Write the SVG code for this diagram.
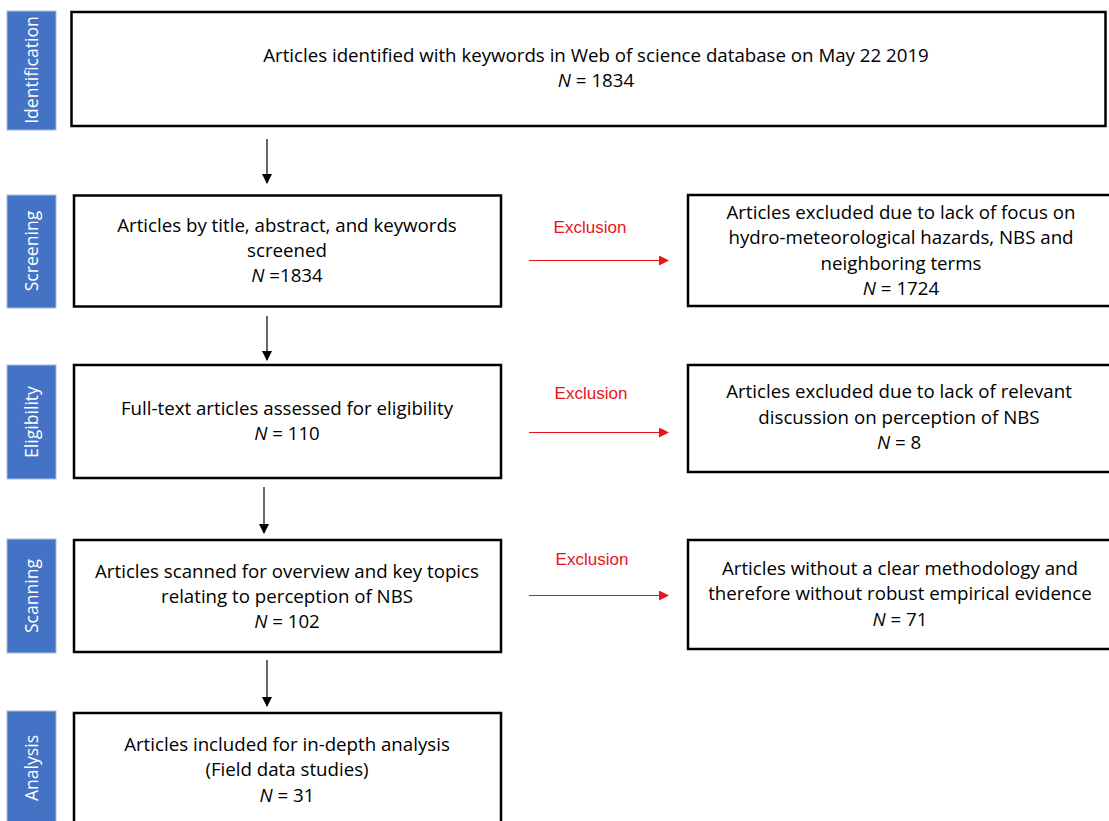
<svg xmlns="http://www.w3.org/2000/svg" width="1109" height="821" viewBox="0 0 1109 821">
<style>
.stage{fill:#4472c4;stroke:#a9bce0;stroke-width:1}
.stxt{fill:#fff;font-family:"Open Sans","Liberation Sans",Arial,sans-serif;font-size:17.6px;text-anchor:middle}
.box{fill:#fff;stroke:#000;stroke-width:2.5}
.t{fill:#000;font-family:"Open Sans","Liberation Sans",Arial,sans-serif;font-size:18.7px;text-anchor:middle}
.ex{fill:#e8141c;font-family:"Liberation Sans",Arial,sans-serif;font-size:17px;text-anchor:middle}
.down{stroke:#000;stroke-width:1.2;fill:none}
.red{stroke:#e8141c;stroke-width:1.2;fill:none}
</style>
<defs>
<marker id="ab" viewBox="0 0 10 10" refX="9" refY="5" markerWidth="10" markerHeight="10" markerUnits="userSpaceOnUse" orient="auto"><path d="M0,0 L10,5 L0,10 Z" fill="#000"/></marker>
<marker id="ar" viewBox="0 0 10 10" refX="9" refY="5" markerWidth="12" markerHeight="10" markerUnits="userSpaceOnUse" orient="auto"><path d="M0,0 L10,5 L0,10 Z" fill="#e8141c"/></marker>
</defs>
<g id="stages">
<g id="s-identification"><rect class="stage" x="7" y="11" width="49" height="119"/><text class="stxt" transform="translate(38,70) rotate(-90)">Identification</text></g>
<g id="s-screening"><rect class="stage" x="7" y="195" width="49" height="113"/><text class="stxt" transform="translate(38,251) rotate(-90)">Screening</text></g>
<g id="s-eligibility"><rect class="stage" x="7" y="365" width="49" height="114"/><text class="stxt" transform="translate(38,422) rotate(-90)">Eligibility</text></g>
<g id="s-scanning"><rect class="stage" x="7" y="539" width="49" height="114"/><text class="stxt" transform="translate(38,596) rotate(-90)">Scanning</text></g>
<g id="s-analysis"><rect class="stage" x="7" y="711" width="49" height="115"/><text class="stxt" transform="translate(38,768) rotate(-90)">Analysis</text></g>
</g>
<g id="n-identified"><rect class="box" x="71.5" y="12" width="1034" height="114"/>
<text class="t" x="596" y="62">Articles identified with keywords in Web of science database on May 22 2019</text>
<text class="t" x="596" y="87"><tspan font-style="italic">N</tspan> = 1834</text></g>
<g id="n-screened"><rect class="box" x="74" y="195.5" width="427" height="111"/>
<text class="t" x="287" y="232">Articles by title, abstract, and keywords</text>
<text class="t" x="287" y="257">screened</text>
<text class="t" x="287" y="282"><tspan font-style="italic">N</tspan> =1834</text></g>
<g id="n-excl1"><rect class="box" x="688" y="195" width="430" height="111"/>
<text class="t" x="901" y="219">Articles excluded due to lack of focus on</text>
<text class="t" x="901" y="244">hydro-meteorological hazards, NBS and</text>
<text class="t" x="901" y="270">neighboring terms</text>
<text class="t" x="901" y="295"><tspan font-style="italic">N</tspan> = 1724</text></g>
<g id="n-eligible"><rect class="box" x="74" y="365" width="427" height="113"/>
<text class="t" x="287" y="415">Full-text articles assessed for eligibility</text>
<text class="t" x="287" y="440"><tspan font-style="italic">N</tspan> = 110</text></g>
<g id="n-excl2"><rect class="box" x="688" y="365" width="430" height="107"/>
<text class="t" x="899" y="398">Articles excluded due to lack of relevant</text>
<text class="t" x="899" y="424">discussion on perception of NBS</text>
<text class="t" x="899" y="449"><tspan font-style="italic">N</tspan> = 8</text></g>
<g id="n-scanned"><rect class="box" x="74" y="540" width="427" height="112"/>
<text class="t" x="287" y="578">Articles scanned for overview and key topics</text>
<text class="t" x="287" y="603">relating to perception of NBS</text>
<text class="t" x="287" y="628"><tspan font-style="italic">N</tspan> = 102</text></g>
<g id="n-excl3"><rect class="box" x="688" y="540" width="430" height="109"/>
<text class="t" x="900" y="575">Articles without a clear methodology and</text>
<text class="t" x="900" y="600">therefore without robust empirical evidence</text>
<text class="t" x="900" y="626"><tspan font-style="italic">N</tspan> = 71</text></g>
<g id="n-analysis"><rect class="box" x="74" y="713" width="427" height="120"/>
<text class="t" x="287" y="751">Articles included for in-depth analysis</text>
<text class="t" x="287" y="776">(Field data studies)</text>
<text class="t" x="287" y="802"><tspan font-style="italic">N</tspan> = 31</text></g>
<g id="connectors">
<line class="down" x1="267" y1="139" x2="267" y2="183" marker-end="url(#ab)"/>
<line class="down" x1="267" y1="316" x2="267" y2="360" marker-end="url(#ab)"/>
<line class="down" x1="264" y1="487" x2="264" y2="533" marker-end="url(#ab)"/>
<line class="down" x1="267" y1="660" x2="267" y2="706" marker-end="url(#ab)"/>
<line class="red" x1="529" y1="260.5" x2="668" y2="260.5" marker-end="url(#ar)"/>
<line class="red" x1="529" y1="432.5" x2="668" y2="432.5" marker-end="url(#ar)"/>
<line class="red" x1="529" y1="595.5" x2="668" y2="595.5" marker-end="url(#ar)"/>
<text class="ex" x="590" y="233">Exclusion</text>
<text class="ex" x="591" y="399">Exclusion</text>
<text class="ex" x="592" y="565">Exclusion</text>
</g>
</svg>
